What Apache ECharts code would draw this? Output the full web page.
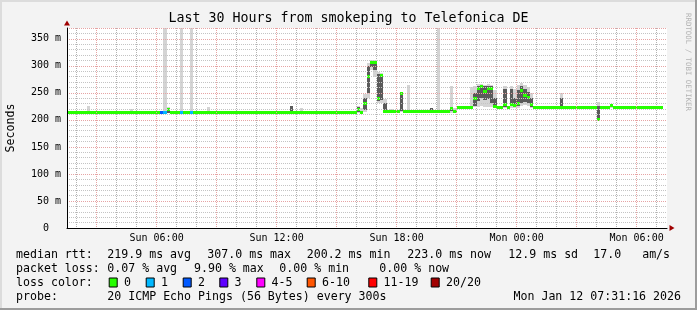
<!DOCTYPE html>
<html><head><meta charset="utf-8">
<script src="https://cdn.jsdelivr.net/npm/echarts@6/dist/echarts.min.js"></script>
<style>html,body{margin:0;padding:0;background:#f3f3f3}#c{width:697px;height:310px}</style>
</head><body><div id="c"></div><script>
// ---------- text ----------
const titleText = 'Last 30 Hours from smokeping to Telefonica DE';
const yAxisTitle = 'Seconds';
const watermark = 'RRDTOOL / TOBI OETIKER';

// ---------- axes (hours since Sun 00:00) ----------
const xStart = 1 + 31 / 60 + 16 / 3600;   // Sun 01:31:16
const xEnd = xStart + 30;                 // Mon 07:31:16
const xTickHours = [6, 12, 18, 24, 30];
const xTickLabels = ['Sun 06:00', 'Sun 12:00', 'Sun 18:00', 'Mon 00:00', 'Mon 06:00'];
const xMajorHours = [3, 6, 9, 12, 15, 18, 21, 24, 27, 30];
const xMinorHours = [2, 4, 5, 7, 8, 10, 11, 13, 14, 16, 17, 19, 20, 22, 23, 25, 26, 28, 29, 31];
const yTicks = [0, 50, 100, 150, 200, 250, 300, 350];
const yTickLabels = ['0  ', '50 m', '100 m', '150 m', '200 m', '250 m', '300 m', '350 m'];
const yMax = 370;

// ---------- data: 10-minute steps, step i ends at Sun 01:40 + i*10min ----------
const firstStepEnd = 1 + 40 / 60;
const stepHours = 10 / 60;
// median rtt (ms)
const median = [
  214,214,214,214,214,214,214,214,214,214,
  214,214,214,214,214,214,214,214,214,214,
  214,214,214,214,214,214,214,214,214,214,
  219,214,214,214,214,214,214,214,214,214,
  214,214,214,214,214,214,214,214,214,214,
  214,214,214,214,214,214,214,214,214,214,
  214,214,214,214,214,214,214,214,214,214,
  214,214,214,214,214,214,214,214,214,214,
  214,214,214,214,214,214,214,220,214,231,
  280,307,306,240,282,215,215,215,215,215,
  249,215,215,215,215,215,215,215,215,215,
  215,215,215,215,215,221,215,223,223,223,
  223,223,240,258,261,253,258,258,224,223,
  223,229,223,229,226,231,254,246,242,228,
  223,223,223,223,223,223,223,223,223,223,
  223,223,223,223,223,223,223,223,223,200,
  223,223,223,227,223,223,223,223,223,223,
  223,223,223,223,223,223,223,223,223,null
];
// steps with packet loss (count of 20)
const lossSteps = [28, 29, 34, 37];
const lossCounts = [2, 1, 1, 1];
// smoke (ping spread) where visible
const smokeSteps = [6,19,29,30,34,37,42,67,70,87,88,89,90,91,92,93,94,95,97,100,102,109,111,115,116,121,122,123,124,125,126,127,128,131,133,134,135,136,137,138,139,148,159,163];
const smokeMin = [213,213,212,212,212,212,213,213,213,212,212,214,240,292,280,232,232,213,213,214,214,213,212,213,213,222,223,224,225,224,224,223,222,222,222,222,222,226,228,225,222,222,199,222];
const smokeLo  = [214,214,213,213,213,213,214,214,214,214,213,218,250,298,292,235,236,214,214,216,214,214,214,216,214,222,226,235,240,236,238,232,223,224,225,224,226,232,234,232,224,223,200,223];
const smokeHi  = [214,214,216,221,216,216,214,225,214,224,216,240,300,308,308,285,284,232,214,249,214,222,214,222,218,224,250,262,262,262,262,262,240,258,258,240,255,262,258,252,240,240,225,228];
const smokeMax = [225,220,400,223,400,400,224,225,222,226,222,248,306,310,310,288,287,238,220,252,265,222,400,262,222,260,262,266,266,265,266,265,255,262,262,258,264,268,265,260,250,249,234,229];

// ---------- legend text ----------
const rowLabels = ['median rtt:', 'packet loss:', 'loss color:', 'probe:'];
const rttStats = ['219.9 ms avg', '307.0 ms max', '200.2 ms min', '223.0 ms now', '12.9 ms sd', '17.0   am/s'];
const lossStats = ['0.07 % avg', '9.90 % max', '0.00 % min', '0.00 % now'];
const lossLegendLabels = ['0', '1', '2', '3', '4-5', '6-10', '11-19', '20/20'];
const lossLegendMaxCount = [0, 1, 2, 3, 5, 10, 19, 20];
const probeText = '20 ICMP Echo Pings (56 Bytes) every 300s';
const dateText = 'Mon Jan 12 07:31:16 2026';

// ---------- styles / layout ----------
const lossColors = ['#26ff00', '#00b8ff', '#0059ff', '#5e00ff', '#ff00ff', '#ff5500', '#ff0000', '#a10000'];
const MONO = '"DejaVu Sans Mono", monospace';
const MINOR_GRID = '#c4c4c4';
const MINOR_GRID_V = '#b2b2b2';
const MAJOR_GRID = '#e6a4a4';
const LAY = {
  rowY: [254.5, 268.5, 282.5, 296.5],
  rowX: 16,
  rttX: [107.3, 207.3, 306.7, 407.3, 508.3, 593.3],
  lossX: [107.3, 194, 279.3, 379.3],
  boxX: [108.7, 145.7, 182.7, 219.3, 256.3, 306.7, 368.3, 430.7],
  probeX: 107.3,
  dateRight: 681
};

function lossClass(n) {
  for (let k = 0; k < lossLegendMaxCount.length; k++) if (n <= lossLegendMaxCount[k]) return k;
  return lossLegendMaxCount.length - 1;
}
function stepRange(i) { const e = firstStepEnd + i * stepHours; return [e - stepHours, e]; }

const medianData = [];
median.forEach((v, i) => {
  if (v == null) return;
  const li = lossSteps.indexOf(i);
  const cls = li >= 0 ? lossClass(lossCounts[li]) : 0;
  const r = stepRange(i);
  medianData.push([r[0], r[1], v, cls]);
});
const smokeData = smokeSteps.map((s, k) => {
  const r = stepRange(s);
  return [r[0], r[1], smokeMin[k], smokeLo[k], smokeHi[k], smokeMax[k]];
});

function renderSmoke(params, api) {
  const t0 = api.value(0), t1 = api.value(1);
  const a = api.coord([t0, api.value(2)]), b = api.coord([t1, api.value(5)]);
  const c = api.coord([t0, api.value(3)]), d = api.coord([t1, api.value(4)]);
  const x0 = Math.round(a[0]), x1 = Math.round(b[0]);
  const children = [{
    type: 'rect', shape: { x: x0, y: Math.round(b[1]), width: x1 - x0, height: Math.max(1, Math.round(a[1]) - Math.round(b[1])) },
    style: { fill: '#d4d4d4' }
  }];
  if (api.value(4) > api.value(3)) children.push({
    type: 'rect', shape: { x: x0, y: Math.round(d[1]), width: x1 - x0, height: Math.max(1, Math.round(c[1]) - Math.round(d[1])) },
    style: { fill: '#5a5a5a' }
  });
  return { type: 'group', children };
}
function renderMedian(params, api) {
  const v = api.value(2);
  const a = api.coord([api.value(0), v]), b = api.coord([api.value(1), v]);
  const x0 = Math.round(a[0]), x1 = Math.round(b[0]);
  return { type: 'rect', shape: { x: x0, y: Math.round(a[1] - 1.5), width: x1 - x0, height: 3 },
    style: { fill: lossColors[api.value(3)] } };
}

// ---------- graphics: text & frame ----------
const g = [];
const txt = (text, x, y, size, extra) => Object.assign({
  type: 'text', x, y, silent: true,
  style: Object.assign({ text, font: size + 'px ' + MONO, fill: '#000', align: 'left', verticalAlign: 'middle' }, extra || {})
});
g.push({ type: 'rect', shape: { x: 0, y: 0, width: 697, height: 2 }, style: { fill: '#dcdcdc' }, silent: true });
g.push({ type: 'rect', shape: { x: 0, y: 0, width: 2, height: 310 }, style: { fill: '#dcdcdc' }, silent: true });
g.push({ type: 'rect', shape: { x: 0, y: 308, width: 697, height: 2 }, style: { fill: '#9c9c9c' }, silent: true });
g.push({ type: 'rect', shape: { x: 695, y: 0, width: 2, height: 310 }, style: { fill: '#9c9c9c' }, silent: true });
g.push(txt(titleText, 348.5, 19, 13.3, { align: 'center' }));
g.push(Object.assign(txt(yAxisTitle, 11, 128, 11.6, { align: 'center' }), { rotation: Math.PI / 2 }));
g.push(Object.assign(txt(watermark, 688, 62, 7.4, { align: 'center', fill: '#b4b4b4' }), { rotation: -Math.PI / 2 }));
rowLabels.forEach((t, r) => g.push(txt(t, LAY.rowX, LAY.rowY[r], 11.6)));
rttStats.forEach((t, k) => g.push(txt(t, LAY.rttX[k], LAY.rowY[0], 11.6)));
lossStats.forEach((t, k) => g.push(txt(t, LAY.lossX[k], LAY.rowY[1], 11.6)));
lossLegendLabels.forEach((t, k) => {
  g.push({ type: 'rect', silent: true, shape: { x: LAY.boxX[k] + 0.5, y: LAY.rowY[2] - 4.5, width: 8, height: 9 },
    style: { fill: lossColors[k], stroke: '#000', lineWidth: 1 } });
  g.push(txt(t, LAY.boxX[k] + 15.3, LAY.rowY[2], 11.6));
});
g.push(txt(probeText, LAY.probeX, LAY.rowY[3], 11.6));
g.push(txt(dateText, LAY.dateRight, LAY.rowY[3], 11.6, { align: 'right' }));

const gridLine = (color) => ({ show: true, lineStyle: { color, width: 1, type: [1, 1] } });

const option = {
  backgroundColor: '#f3f3f3',
  animation: false,
  grid: { left: 67, top: 28, width: 600, height: 200, show: true, backgroundColor: '#ffffff', borderWidth: 0, containLabel: false, outerBoundsMode: 'none' },
  xAxis: [{
    // hourly minor grid (drawn first, underneath)
    type: 'value', min: xStart, max: xEnd, position: 'bottom', z: 1,
    axisLine: { show: true, onZero: false, symbol: ['none', 'triangle'], symbolSize: [6, 5], symbolOffset: [0, 5], lineStyle: { color: '#a00000', width: 0 } },
    axisTick: { show: false, customValues: xMinorHours },
    axisLabel: { show: false },
    splitLine: gridLine(MINOR_GRID_V)
  }, {
    type: 'value', min: xStart, max: xEnd, position: 'bottom', z: 5,
    axisLine: { show: true, onZero: false, lineStyle: { color: '#000', width: 1 } },
    axisTick: { show: false, customValues: xMajorHours },
    axisLabel: { show: true, customValues: xTickHours, margin: 5, color: '#000', fontFamily: MONO, fontSize: 10,
      formatter: v => xTickLabels[xTickHours.indexOf(Math.round(v))] || '' },
    splitLine: gridLine(MAJOR_GRID)
  }],
  yAxis: [{
    type: 'value', min: 0, max: yMax, interval: 50, z: 5,
    axisLine: { show: true, onZero: false, lineStyle: { color: '#000', width: 1 } },
    axisTick: { show: false },
    axisLabel: { show: true, margin: 6, color: '#000', fontFamily: MONO, fontSize: 10,
      formatter: v => { const k = yTicks.indexOf(v); return k >= 0 ? yTickLabels[k] : ''; }, showMaxLabel: false },
    splitLine: gridLine(MAJOR_GRID),
    minorTick: { show: false, splitNumber: 5 },
    minorSplitLine: gridLine(MINOR_GRID)
  }, {
    type: 'value', min: 0, max: yMax, position: 'left',
    axisLine: { show: true, onZero: false, symbol: ['none', 'triangle'], symbolSize: [6, 5], symbolOffset: [0, 5], lineStyle: { color: '#a00000', width: 0 } },
    axisTick: { show: false }, axisLabel: { show: false }, splitLine: { show: false }
  }],
  graphic: g,
  series: [{
    type: 'custom', name: 'smoke', xAxisIndex: 1, yAxisIndex: 0, clip: true,
    renderItem: renderSmoke, data: smokeData, encode: { x: [0, 1], y: [2, 5] }, silent: true, z: 3
  }, {
    type: 'custom', name: 'median', xAxisIndex: 1, yAxisIndex: 0, clip: true,
    renderItem: renderMedian, data: medianData, encode: { x: [0, 1], y: 2 }, silent: true, z: 4
  }]
};
const chart = echarts.init(document.getElementById('c'), null, { renderer: 'canvas' });
chart.setOption(option);
</script></body></html>
